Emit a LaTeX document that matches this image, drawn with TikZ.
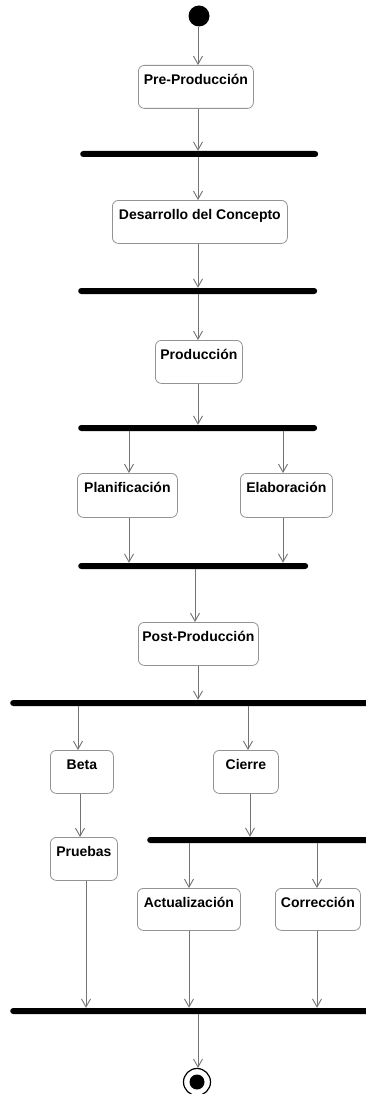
\documentclass[tikz,border=0pt]{standalone}
\usepackage{fontspec}
\setmainfont{Liberation Sans}
\usetikzlibrary{arrows.meta}
\tikzset{
  act/.style={draw=gray!85, line width=0.8pt, rounded corners=6pt, fill=white,
    inner xsep=0pt, inner ysep=0pt, text height=19pt, text depth=24pt,
    font=\fontsize{14}{16}\selectfont\bfseries, anchor=north west},
  bar/.style={fill=black, rounded corners=3pt, minimum height=6pt, inner sep=0pt, anchor=west},
  arr/.style={draw=gray!90!black, line width=0.9pt, -{Straight Barb[length=8pt,width=9pt,line width=0.9pt]}},
}
\begin{document}
\begin{tikzpicture}[x=1pt,y=-1pt]
\useasboundingbox (0,0) rectangle (365,1094);
% column coordinates
\coordinate (xM) at (198,0);
\coordinate (xPl) at (129,0);
\coordinate (xEl) at (283,0);
\coordinate (xPo) at (195,0);
\coordinate (xBe) at (78,0);
\coordinate (xCi) at (248,0);
\coordinate (xBP) at (80,0);
\coordinate (xC6) at (250,0);
\coordinate (xAc) at (189,0);
\coordinate (xCo) at (317,0);
\coordinate (xPr) at (86,0);
% nodes
\node[circle, fill=black, minimum size=21pt, inner sep=0pt] (start) at (199,16) {};
\node[act, minimum width=115pt] (pre) at (138,65) {Pre-Producción};
\node[bar, minimum width=238pt] (b1) at (80,154) {};
\node[act, minimum width=175pt] (des) at (112,200) {Desarrollo del Concepto};
\node[bar, minimum width=239pt] (b2) at (78,291) {};
\node[act, minimum width=87pt] (pro) at (155,340) {Producción};
\node[bar, minimum width=239pt] (b3) at (78,428) {};
\node[act, minimum width=100pt, text depth=25pt] (pla) at (77,473) {Planificación};
\node[act, minimum width=92pt, text depth=25pt] (ela) at (240,473) {Elaboración};
\node[bar, minimum width=230pt] (b4) at (78,566) {};
\node[act, minimum width=120pt] (post) at (138,622) {Post-Producción};
\node[bar, minimum width=360pt] (b5) at (10,703) {};
\node[act, minimum width=63pt] (beta) at (50,750) {Beta};
\node[act, minimum width=65pt] (cie) at (213,750) {Cierre};
\node[act, minimum width=67pt] (pru) at (50,837) {Pruebas};
\node[bar, minimum width=223pt] (b6) at (147,840) {};
\node[act, minimum width=103pt, text depth=23pt] (actu) at (137,888) {Actualización};
\node[act, minimum width=85pt, text depth=23pt] (cor) at (275,888) {Corrección};
\node[bar, minimum width=360pt] (b7) at (10,1011) {};
\node[circle, draw=black, line width=1.2pt, minimum size=27pt, inner sep=0pt] (end) at (197,1082) {};
\node[circle, fill=black, minimum size=15pt, inner sep=0pt] (endin) at (end) {};
% connectors
\draw[arr] (start.south -| xM) -- (pre.north -| xM);
\draw[arr] (pre.south -| xM) -- (b1.north -| xM);
\draw[arr] (b1.south -| xM) -- (des.north -| xM);
\draw[arr] (des.south -| xM) -- (b2.north -| xM);
\draw[arr] (b2.south -| xM) -- (pro.north -| xM);
\draw[arr] (pro.south -| xM) -- (b3.north -| xM);
\draw[arr] (b3.south -| xPl) -- (pla.north -| xPl);
\draw[arr] (b3.south -| xEl) -- (ela.north -| xEl);
\draw[arr] (pla.south -| xPl) -- (b4.north -| xPl);
\draw[arr] (ela.south -| xEl) -- (b4.north -| xEl);
\draw[arr] (b4.south -| xPo) -- (post.north -| xPo);
\draw[arr] (post.south -| xM) -- (b5.north -| xM);
\draw[arr] (b5.south -| xBe) -- (beta.north -| xBe);
\draw[arr] (b5.south -| xCi) -- (cie.north -| xCi);
\draw[arr] (beta.south -| xBP) -- (pru.north -| xBP);
\draw[arr] (cie.south -| xC6) -- (b6.north -| xC6);
\draw[arr] (b6.south -| xAc) -- (actu.north -| xAc);
\draw[arr] (b6.south -| xCo) -- (cor.north -| xCo);
\draw[arr] (pru.south -| xPr) -- (b7.north -| xPr);
\draw[arr] (actu.south -| xAc) -- (b7.north -| xAc);
\draw[arr] (cor.south -| xCo) -- (b7.north -| xCo);
\draw[arr] (b7.south -| xM) -- (end.north -| xM);
\end{tikzpicture}
\end{document}
